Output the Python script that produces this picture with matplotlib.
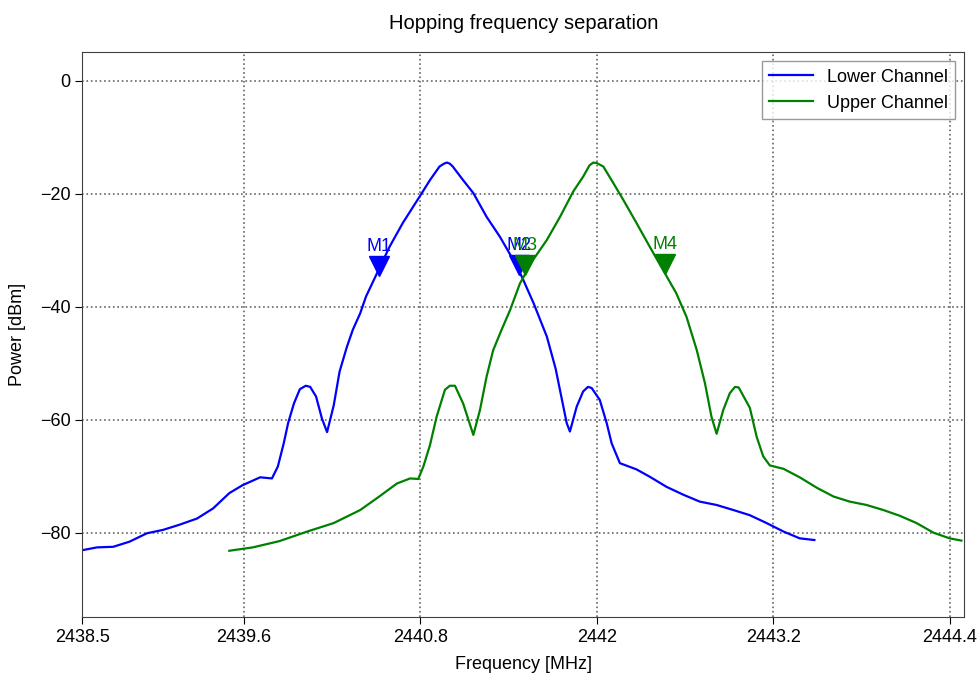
import matplotlib
matplotlib.use("Agg")
import matplotlib.pyplot as plt

plt.rcParams['font.family'] = ['Liberation Sans', 'DejaVu Sans']

# lower channel trace (MHz, dBm)
lower_freq = [2438.50, 2438.60, 2438.71, 2438.82, 2438.94, 2439.05, 2439.16, 2439.28,
              2439.39, 2439.50, 2439.59, 2439.71, 2439.79, 2439.83, 2439.87, 2439.90,
              2439.94, 2439.98, 2440.02, 2440.05, 2440.09, 2440.13, 2440.165, 2440.21,
              2440.25, 2440.30, 2440.34, 2440.39, 2440.43, 2440.51, 2440.59, 2440.68,
              2440.80, 2440.865, 2440.93, 2440.96, 2440.98, 2441.00, 2441.02, 2441.09,
              2441.16, 2441.25, 2441.34, 2441.42, 2441.49, 2441.57, 2441.66, 2441.72,
              2441.795, 2441.817, 2441.863, 2441.907, 2441.94, 2441.965, 2442.02, 2442.067,
              2442.101, 2442.157, 2442.27, 2442.36, 2442.475, 2442.59, 2442.70, 2442.815,
              2442.93, 2443.04, 2443.155, 2443.27, 2443.38, 2443.48]
lower_power = [-83.1, -82.6, -82.5, -81.6, -80.1, -79.5, -78.6, -77.5,
               -75.7, -73.0, -71.6, -70.2, -70.4, -68.3, -64.2, -60.6,
               -57.1, -54.6, -54.0, -54.2, -55.9, -59.8, -62.2, -57.5,
               -51.5, -47.1, -44.1, -41.2, -38.2, -33.8, -29.4, -25.2,
               -20.3, -17.6, -15.2, -14.7, -14.5, -14.7, -15.2, -17.6,
               -19.9, -24.1, -27.6, -31.2, -34.7, -39.4, -45.3, -51.0,
               -60.6, -62.1, -57.7, -55.0, -54.2, -54.4, -56.5, -60.6,
               -64.2, -67.7, -68.8, -70.1, -71.9, -73.3, -74.5, -75.1,
               -76.0, -76.9, -78.3, -79.8, -81.0, -81.3]

# upper channel trace
upper_freq = [2439.50, 2439.66, 2439.84, 2440.03, 2440.21, 2440.39, 2440.52, 2440.64,
              2440.73, 2440.785, 2440.82, 2440.865, 2440.91, 2440.967, 2441.00, 2441.035,
              2441.09, 2441.16, 2441.205, 2441.25, 2441.295, 2441.352, 2441.41, 2441.477,
              2441.567, 2441.66, 2441.75, 2441.84, 2441.907, 2441.95, 2441.976, 2442.00,
              2442.044, 2442.10, 2442.18, 2442.27, 2442.36, 2442.45, 2442.54, 2442.61,
              2442.68, 2442.736, 2442.78, 2442.815, 2442.86, 2442.905, 2442.94, 2442.965,
              2443.041, 2443.087, 2443.132, 2443.177, 2443.27, 2443.38, 2443.50, 2443.61,
              2443.72, 2443.835, 2443.95, 2444.06, 2444.175, 2444.29, 2444.40, 2444.48]
upper_power = [-83.2, -82.6, -81.5, -79.8, -78.3, -76.0, -73.6, -71.3,
               -70.4, -70.5, -68.3, -64.5, -59.5, -54.7, -54.0, -54.0,
               -57.1, -62.7, -58.3, -52.4, -47.7, -44.1, -40.6, -35.9,
               -31.7, -28.2, -24.1, -19.6, -17.0, -15.0, -14.5, -14.6,
               -15.2, -17.6, -21.1, -25.2, -29.4, -33.5, -37.6, -41.8,
               -47.7, -53.6, -59.5, -62.5, -58.3, -55.3, -54.2, -54.3,
               -57.9, -63.0, -66.5, -68.1, -68.7, -70.2, -72.1, -73.6,
               -74.5, -75.1, -76.0, -77.0, -78.3, -80.0, -81.0, -81.4]

# markers
lower_marker_names = ['M1', 'M2']
lower_marker_freq = [2440.516, 2441.47]
lower_marker_level = [-32.8, -32.6]
upper_marker_names = ['M3', 'M4']
upper_marker_freq = [2441.513, 2442.467]
upper_marker_level = [-32.6, -32.4]

xticks = [2438.5, 2439.6, 2440.8, 2442.0, 2443.2, 2444.4]
xtick_labels = ['2438.5', '2439.6', '2440.8', '2442', '2443.2', '2444.4']
yticks = [0, -20, -40, -60, -80]

fig = plt.figure(figsize=(9.8, 6.8), dpi=100)
ax = fig.add_axes([0.084, 0.092, 0.9, 0.831])

ax.plot(lower_freq, lower_power, 'b', lw=1.6, label='Lower Channel')
ax.plot(upper_freq, upper_power, 'g', lw=1.6, label='Upper Channel')

for name, f, p in zip(lower_marker_names, lower_marker_freq, lower_marker_level):
    ax.plot(f, p, 'v', color='b', markersize=14)
    ax.annotate(name, (f, p), xytext=(0, 14), textcoords='offset points',
                ha='center', va='center', color='b', fontsize=13)
for name, f, p in zip(upper_marker_names, upper_marker_freq, upper_marker_level):
    ax.plot(f, p, 'v', color='g', markersize=14)
    ax.annotate(name, (f, p), xytext=(0, 14), textcoords='offset points',
                ha='center', va='center', color='g', fontsize=13)

ax.set_xlim(2438.5, 2444.5)
ax.set_ylim(-95, 5)
ax.set_xticks(xticks)
ax.set_xticklabels(xtick_labels)
ax.set_yticks(yticks)
ax.tick_params(labelsize=13, length=5)
ax.grid(True, linestyle=':', color='0.4', linewidth=1.2)
ax.set_xlabel('Frequency [MHz]', fontsize=13, labelpad=7)
ax.set_ylabel('Power [dBm]', fontsize=13, labelpad=10)
ax.set_title('Hopping frequency separation', fontsize=14.5, pad=17)
for s in ax.spines.values():
    s.set_color('0.25')

ax.legend(loc='upper right', fontsize=13, fancybox=False, edgecolor='0.5',
          framealpha=0.8, handlelength=2.4)

fig.savefig('out.png', dpi=100)
plt.close(fig)
